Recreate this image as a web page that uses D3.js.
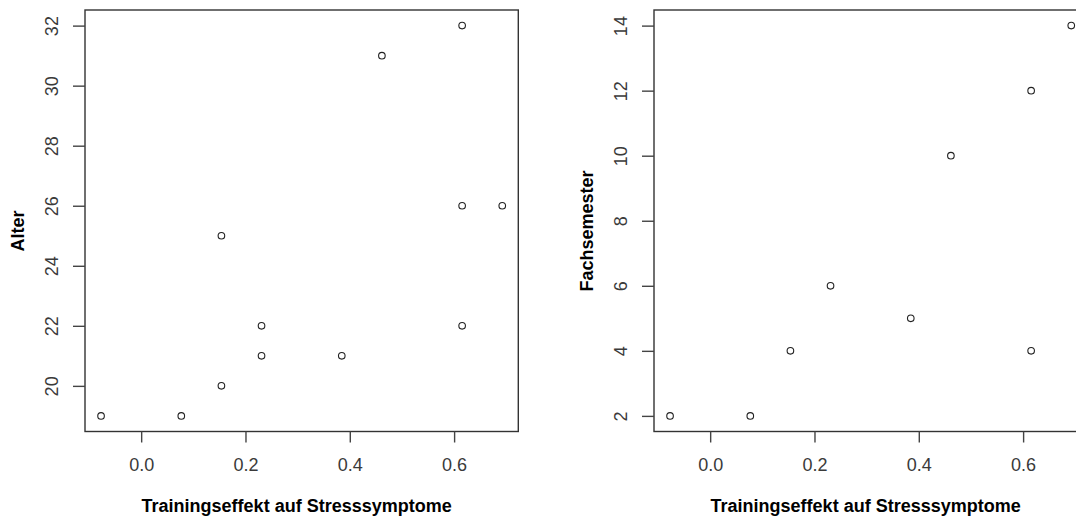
<html>
  <head>
    <meta charset="utf-8" />
    <title>Trainingseffekt</title>
    <style>
      body { margin: 0; background: #fff; }
      text { font-family: "Liberation Sans", Arial, sans-serif; }
    </style>
  </head>
  <body>
    <script src="https://cdnjs.cloudflare.com/ajax/libs/d3/7.8.5/d3.min.js" charset="utf-8"></script>
    <script>
      const width = 1076;
      const height = 517;

      // Trainingseffekt (multiples of 1/13)
      const effektAlter = [-1, 1, 2, 2, 3, 3, 5, 6, 8, 8, 9, 8].map(d => d / 13);
      const alter = [19, 19, 20, 25, 22, 21, 21, 31, 32, 26, 26, 22];

      const effektSemester = [-1, 1, 2, 3, 5, 8, 6, 8, 9].map(d => d / 13);
      const fachsemester = [2, 2, 4, 6, 5, 4, 10, 12, 14];

      const xTicks = [0.0, 0.2, 0.4, 0.6];
      const alterTicks = [20, 22, 24, 26, 28, 30, 32];
      const semesterTicks = [2, 4, 6, 8, 10, 12, 14];

      const xLabel = "Trainingseffekt auf Stresssymptome";

      let svg = d3
        .select("body")
        .append("svg")
        .attr("width", width)
        .attr("height", height);

      // R style 4% padding around the data range
      function padded(vals) {
        const [lo, hi] = d3.extent(vals);
        const p = (hi - lo) * 0.04;
        return [lo - p, hi + p];
      }

      function panel(left, xs, ys, yTicks, yLabel) {
        const top = 10;
        const bottom = 431.5;
        const right = left + 433.3;

        const x = d3.scaleLinear().domain(padded(xs)).range([left, right]);
        const y = d3.scaleLinear().domain(padded(ys)).range([bottom, top]);

        const g = svg.append("g");

        g.append("rect")
          .attr("x", left)
          .attr("y", top)
          .attr("width", right - left)
          .attr("height", bottom - top)
          .attr("fill", "none")
          .attr("stroke", "#333")
          .attr("stroke-width", 1.4);

        // x axis
        let xAxis = g
          .append("g")
          .attr("transform", `translate(0,${bottom})`)
          .call(d3.axisBottom(x).tickValues(xTicks).tickSize(11).tickFormat(d3.format(".1f")));
        xAxis.select(".domain").remove();
        xAxis.selectAll("line").attr("stroke", "#444").attr("stroke-width", 1.4);
        xAxis.selectAll("text")
          .attr("y", 39.5)
          .attr("dy", 0)
          .attr("fill", "#3a3a3a")
          .style("font-size", "18px");

        // y axis, labels parallel to the axis
        let yAxis = g
          .append("g")
          .attr("transform", `translate(${left},0)`)
          .call(d3.axisLeft(y).tickValues(yTicks).tickSize(12));
        yAxis.select(".domain").remove();
        yAxis.selectAll("line").attr("stroke", "#444").attr("stroke-width", 1.4);
        yAxis.selectAll("text")
          .attr("transform", "rotate(-90)")
          .attr("x", 0)
          .attr("y", -27.5)
          .attr("dy", 0)
          .attr("text-anchor", "middle")
          .attr("fill", "#3a3a3a")
          .style("font-size", "18px");

        // axis titles
        g.append("text")
          .attr("x", (left + right) / 2 - 5)
          .attr("y", 511.5)
          .attr("text-anchor", "middle")
          .style("font-size", "18px")
          .style("font-weight", "bold")
          .attr("fill", "#000")
          .text(xLabel);

        g.append("text")
          .attr("transform", `translate(${left - 61.5},231) rotate(-90)`)
          .attr("text-anchor", "middle")
          .style("font-size", "18px")
          .style("font-weight", "bold")
          .attr("fill", "#000")
          .text(yLabel);

        // points
        g.selectAll("circle.pt")
          .data(xs.map((d, i) => [d, ys[i]]))
          .enter()
          .append("circle")
          .attr("class", "pt")
          .attr("cx", d => x(d[0]))
          .attr("cy", d => y(d[1]))
          .attr("r", 3.3)
          .attr("fill", "none")
          .attr("stroke", "#222")
          .attr("stroke-width", 1.1);
      }

      panel(85, effektAlter, alter, alterTicks, "Alter");
      panel(654, effektSemester, fachsemester, semesterTicks, "Fachsemester");
    </script>
  </body>
</html>
